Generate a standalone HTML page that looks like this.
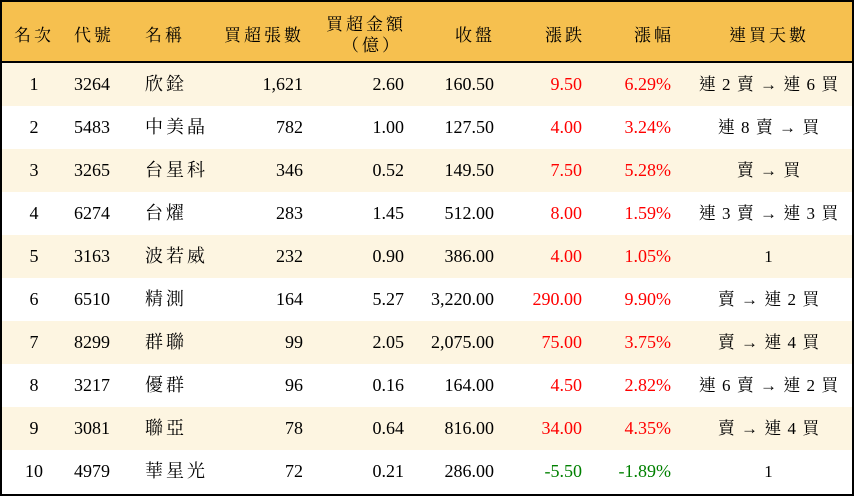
<!DOCTYPE html>
<html><head><meta charset="utf-8"><style>
*{margin:0;padding:0;box-sizing:border-box}
body{width:854px;height:496px;background:#fff;font-family:"Liberation Serif","Noto Serif CJK TC","Noto Serif CJK SC",serif;color:#000;overflow:hidden}
.wrap{position:absolute;left:0;top:0;width:854px;height:496px;border:2px solid #000}
.hdr{position:absolute;left:0;top:0;width:850px;height:61px;background:#f6c04f;border-bottom:2px solid #000}
.row{position:absolute;left:0;width:850px;height:43px}
.odd{background:#fdf5e1}
.c{position:absolute;font-size:18px;white-space:nowrap;line-height:43px}
.h{position:absolute;font-size:17px;white-space:nowrap;letter-spacing:3px}
.r{color:#f00}.g{color:#008000}
</style></head><body><div class="wrap">
<div class="hdr">
<div class="h" style="left:12px;top:19px">名次</div>
<div class="h" style="left:72px;top:19px">代號</div>
<div class="h" style="left:143px;top:19px">名稱</div>
<div class="h" style="right:548px;top:19px">買超張數</div>
<div class="h" style="left:324px;top:8px">買超金額</div>
<div class="h" style="left:340px;top:29px">（億）</div>
<div class="h" style="right:357px;top:19px">收盤</div>
<div class="h" style="right:267px;top:19px">漲跌</div>
<div class="h" style="right:178px;top:19px">漲幅</div>
<div class="h" style="left:727px;top:19px">連買天數</div>
</div>
<div id="rows"></div>
</div>
<script>
var d=[["1","3264","欣銓","1,621","2.60","160.50","9.50","6.29%","連 2 賣 → 連 6 買"],
["2","5483","中美晶","782","1.00","127.50","4.00","3.24%","連 8 賣 → 買"],
["3","3265","台星科","346","0.52","149.50","7.50","5.28%","賣 → 買"],
["4","6274","台燿","283","1.45","512.00","8.00","1.59%","連 3 賣 → 連 3 買"],
["5","3163","波若威","232","0.90","386.00","4.00","1.05%","1"],
["6","6510","精測","164","5.27","3,220.00","290.00","9.90%","賣 → 連 2 買"],
["7","8299","群聯","99","2.05","2,075.00","75.00","3.75%","賣 → 連 4 買"],
["8","3217","優群","96","0.16","164.00","4.50","2.82%","連 6 賣 → 連 2 買"],
["9","3081","聯亞","78","0.64","816.00","34.00","4.35%","賣 → 連 4 買"],
["10","4979","華星光","72","0.21","286.00","-5.50","-1.89%","1"]];
var h="";
d.forEach(function(r,i){var col=r[6][0]=="-"?"g":"r";
h+='<div class="row'+(i%2==0?' odd':'')+'" style="top:'+(61+i*43)+'px">'+
'<div class="c" style="left:0;width:64px;text-align:center">'+r[0]+'</div>'+
'<div class="c" style="left:72px">'+r[1]+'</div>'+
'<div class="c" style="left:143px;letter-spacing:3px">'+r[2]+'</div>'+
'<div class="c" style="right:549px">'+r[3]+'</div>'+
'<div class="c" style="right:448px">'+r[4]+'</div>'+
'<div class="c" style="right:358px">'+r[5]+'</div>'+
'<div class="c '+col+'" style="right:270px">'+r[6]+'</div>'+
'<div class="c '+col+'" style="right:181px">'+r[7]+'</div>'+
'<div class="c" style="left:682px;width:170px;text-align:center;font-size:17px;letter-spacing:1px">'+r[8]+'</div></div>';});
document.getElementById("rows").innerHTML=h;
</script>
</body></html>
